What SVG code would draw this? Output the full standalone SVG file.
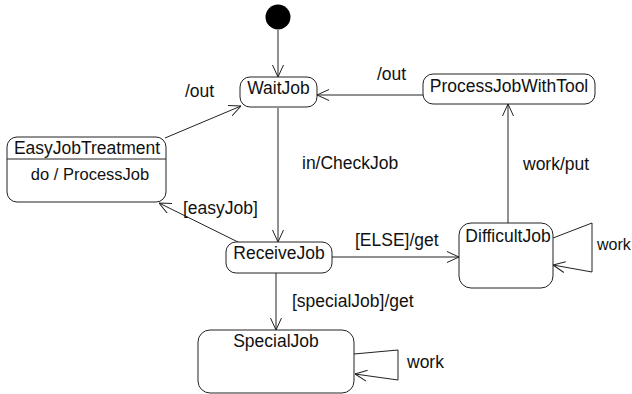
<svg xmlns="http://www.w3.org/2000/svg" width="632" height="394" viewBox="0 0 632 394">
  <style>
    .state { fill: #ffffff; stroke: #222222; stroke-width: 1; }
    .edge { fill: none; stroke: #222222; stroke-width: 1; marker-end: url(#open); }
    text { font-family: "Liberation Sans", Arial, sans-serif; font-size: 17.5px; fill: #111111; }
    .c { text-anchor: middle; }
  </style>
  <defs>
    <marker id="open" viewBox="0 0 12 12" refX="12" refY="6" markerWidth="12" markerHeight="12" markerUnits="userSpaceOnUse" orient="auto">
      <path d="M0,0.5 L12,6 L0,11.5" fill="none" stroke="#222222" stroke-width="1"/>
    </marker>
  </defs>
  <rect width="632" height="394" fill="#ffffff"/>

  <g id="connectors">
    <line class="edge" x1="278" y1="30" x2="278" y2="77"/>
    <line class="edge" x1="423" y1="95" x2="317" y2="95"/>
    <line class="edge" x1="165" y1="138" x2="241" y2="106"/>
    <line class="edge" x1="278" y1="108" x2="278" y2="242"/>
    <line class="edge" x1="240" y1="243" x2="159" y2="203"/>
    <line class="edge" x1="332" y1="257" x2="459" y2="257"/>
    <line class="edge" x1="508" y1="223" x2="508" y2="104"/>
    <polyline class="edge" points="553,238 592,223 592,272 553,265"/>
    <line class="edge" x1="276" y1="273" x2="276" y2="330"/>
    <polyline class="edge" points="354,354 398,350 398,380 355,374"/>

    <text x="185" y="97">/out</text>
    <text x="377" y="80">/out</text>
    <text x="302" y="169">in/CheckJob</text>
    <text x="523" y="170">work/put</text>
    <text x="183" y="214">[easyJob]</text>
    <text x="355" y="246">[ELSE]/get</text>
    <text x="292" y="307">[specialJob]/get</text>
    <text x="597" y="250" style="font-size:16px">work</text>
    <text x="407" y="368">work</text>
  </g>

  <g id="initial">
    <circle cx="278" cy="17" r="12.5" fill="#000000"/>
  </g>

  <g id="WaitJob">
    <rect class="state" x="240" y="77" width="77" height="30" rx="10"/>
    <text class="c" x="278.5" y="94">WaitJob</text>
  </g>

  <g id="ProcessJobWithTool">
    <rect class="state" x="423" y="74" width="172" height="30" rx="10"/>
    <text class="c" x="509" y="92">ProcessJobWithTool</text>
  </g>

  <g id="EasyJobTreatment">
    <rect class="state" x="7" y="137" width="159" height="65" rx="10"/>
    <line x1="7" y1="159" x2="166" y2="159" stroke="#222222" stroke-width="1"/>
    <text class="c" x="87" y="154">EasyJobTreatment</text>
    <text class="c" x="90" y="180" style="font-size:16.5px">do / ProcessJob</text>
  </g>

  <g id="ReceiveJob">
    <rect class="state" x="226" y="242" width="106" height="31" rx="10"/>
    <text class="c" x="279" y="259">ReceiveJob</text>
  </g>

  <g id="DifficultJob">
    <rect class="state" x="459" y="223" width="94" height="65" rx="12"/>
    <text class="c" x="508" y="242">DifficultJob</text>
  </g>

  <g id="SpecialJob">
    <rect class="state" x="198" y="330" width="156" height="63" rx="12"/>
    <text class="c" x="276" y="347">SpecialJob</text>
  </g>
</svg>
